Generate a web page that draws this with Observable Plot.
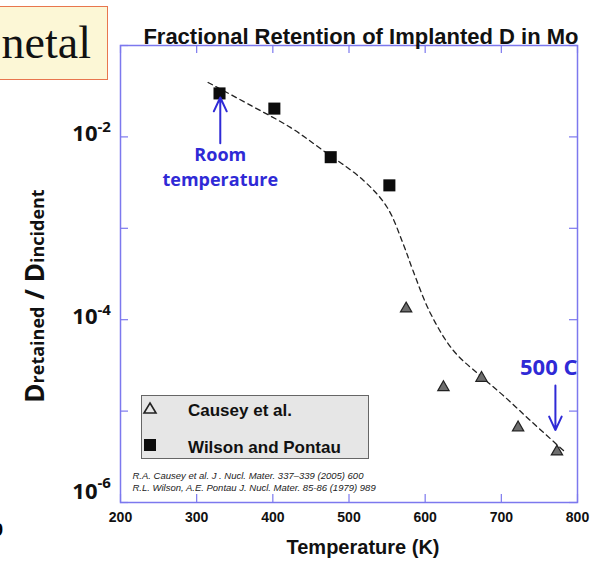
<!DOCTYPE html>
<html><head><meta charset="utf-8">
<script src="https://cdn.jsdelivr.net/npm/d3@7"></script>
<script src="https://cdn.jsdelivr.net/npm/@observablehq/plot@0.6"></script>
<style>
body{margin:0;background:#fff;}
#wrap{position:relative;width:593px;height:566px;overflow:hidden;background:#fff;}
#wrap svg{position:absolute;left:0;top:0;}
.box{position:absolute;left:-4px;top:6px;width:112px;height:74px;box-sizing:border-box;background:#fcf7d6;border:1.5px solid #e8764e;font-family:"Liberation Serif",serif;font-size:46px;line-height:72px;text-align:right;padding-right:16px;color:#111;}
.legend{position:absolute;left:141px;top:395px;width:228px;height:64px;box-sizing:border-box;background:#e6e6e6;border:1px solid #666;font-family:"Liberation Sans",Arial,sans-serif;font-weight:700;font-size:17px;color:#111;}
.legend .row{position:absolute;left:0;height:20px;line-height:20px;}
.legend .lab{position:absolute;left:46px;white-space:nowrap;}
.legend svg{position:absolute;left:9px;top:3px;}
.nine{position:absolute;left:-7px;top:520px;font-family:"Liberation Sans",sans-serif;font-weight:700;font-size:18px;}
</style></head><body><div id="wrap"></div>
<script>
// Wilson and Pontau (squares)
const wilsonT = [330, 402, 476, 553];
const wilsonR = [0.0299, 0.0204, 0.0060, 0.00295];
// Causey et al. (triangles)
const causeyT = [575, 624, 674, 722, 773];
const causeyR = [1.32e-4, 1.82e-5, 2.3e-5, 6.6e-6, 3.6e-6];
// dashed guide curve
const fitT = [315, 371, 423, 466, 519, 550, 571, 584, 607, 637, 672, 703, 738, 784];
const fitR = [0.0394, 0.0221, 0.0127, 0.0071, 0.00334, 0.0017, 6.8e-4, 3.45e-4, 1.17e-4, 4.6e-5, 2.45e-5, 1.47e-5, 7.9e-6, 3.55e-6];
const xTicks = [200, 300, 400, 500, 600, 700, 800];
const yTicks = [1e-6, 1e-5, 1e-4, 1e-3, 1e-2, 1e-1];
const yLabelsUpper = [1e-2, 1e-4];
const yLabelsUpperExp = ["-2", "-4"];
const yLabelsLower = [1e-6];
const yLabelsLowerExp = ["-6"];
const titleText = "Fractional Retention of Implanted D in Mo";
const xLabel = "Temperature (K)";
const refs = ["R.A. Causey et al. J . Nucl. Mater. 337–339 (2005) 600", "R.L. Wilson, A.E. Pontau J. Nucl. Mater. 85-86 (1979) 989"];
const legendNames = ["Causey et al.", "Wilson and Pontau"];

const wilson = wilsonT.map((t, i) => ({t, r: wilsonR[i]}));
const causey = causeyT.map((t, i) => ({t, r: causeyR[i]}));
const fit = fitT.map((t, i) => ({t, r: fitR[i]}));

const blue = "#7c78ee";
const annot = "#2f2ad6";
const arial = "Liberation Sans, Arial, sans-serif";
const myriad = "Open Sans, sans-serif";

const plot = Plot.plot({
  width: 593, height: 566,
  marginLeft: 120, marginRight: 16, marginTop: 45, marginBottom: 64,
  x: {domain: [200, 800], axis: null},
  y: {type: "log", domain: [1e-6, 1e-1], axis: null},
  marks: [
    Plot.frame({stroke: blue, strokeWidth: 1.5}),
    Plot.ruleX(xTicks, {x: d => d, insetTop: 449, stroke: blue, strokeWidth: 1.2}),
    Plot.ruleX(xTicks, {x: d => d, insetBottom: 449, stroke: blue, strokeWidth: 1.2}),
    Plot.ruleY(yTicks, {y: d => d, insetRight: 449, stroke: blue, strokeWidth: 1.2}),
    Plot.ruleY(yTicks, {y: d => d, insetLeft: 449, stroke: blue, strokeWidth: 1.2}),
    Plot.line(fit, {x: "t", y: "r", stroke: "#222", strokeWidth: 1.3, strokeDasharray: "5,4", curve: "catmull-rom"}),
    Plot.dot(wilson, {x: "t", y: "r", symbol: "square", r: 6.8, fill: "#0c0c0c"}),
    Plot.dot(causey, {x: "t", y: "r", symbol: "triangle", r: 4.2, fill: "#6e6e6e", stroke: "#222", strokeWidth: 1.2}),
    // annotations
    Plot.arrow([{x: 331, y1: 0.0085, y2: 0.027}], {x: "x", y1: "y1", y2: "y2", stroke: annot, strokeWidth: 2, headLength: 12, headAngle: 50}),
    Plot.text(["Room\ntemperature"], {x: () => 331, y: () => 0.0049, text: d => d, fill: annot, fontSize: 18, fontWeight: 700, fontFamily: myriad, lineHeight: 1.4}),
    Plot.arrow([{x: 771, y1: 1.9e-5, y2: 6.2e-6}], {x: "x", y1: "y1", y2: "y2", stroke: annot, strokeWidth: 2, headLength: 12, headAngle: 50}),
    Plot.text(["500 C"], {x: () => 800, y: () => 2.96e-5, text: d => d, textAnchor: "end", fill: annot, fontSize: 22, fontWeight: 700, fontFamily: myriad}),
    // y tick labels
    Plot.text(yLabelsUpper, {y: d => d, frameAnchor: "left", text: () => "10", textAnchor: "end", dx: -23, dy: -3, fontSize: 22, fontWeight: 700, fontFamily: myriad, fill: "#111"}),
    Plot.text(yLabelsUpper, {y: d => d, frameAnchor: "left", text: (d, i) => yLabelsUpperExp[i], textAnchor: "start", dx: -23, dy: -10, fontSize: 15, fontWeight: 700, fontFamily: myriad, fill: "#111"}),
    Plot.text(yLabelsLower, {y: d => d, frameAnchor: "left", text: () => "10", textAnchor: "end", dx: -23, dy: -11, fontSize: 22, fontWeight: 700, fontFamily: myriad, fill: "#111"}),
    Plot.text(yLabelsLower, {y: d => d, frameAnchor: "left", text: (d, i) => yLabelsLowerExp[i], textAnchor: "start", dx: -23, dy: -19, fontSize: 15, fontWeight: 700, fontFamily: myriad, fill: "#111"}),
    // x tick labels
    Plot.text(xTicks, {x: d => d, frameAnchor: "bottom", text: d => String(d), dy: 19, fontSize: 14, fontWeight: 700, fontFamily: arial, fill: "#111"}),
    // titles
    Plot.text([titleText], {frameAnchor: "top-right", text: d => d, textAnchor: "end", dx: 1, dy: -17, fontSize: 22, fontWeight: 700, fontFamily: arial, fill: "#111"}),
    Plot.text([xLabel], {frameAnchor: "bottom", text: d => d, dx: 14, dy: 51, fontSize: 20, fontWeight: 700, fontFamily: arial, fill: "#111"}),
    // references
    Plot.text([refs[0]], {frameAnchor: "bottom-left", text: d => d, textAnchor: "start", dx: 12, dy: -24, fontSize: 9.5, fontStyle: "italic", fontFamily: arial, fill: "#222"}),
    Plot.text([refs[1]], {frameAnchor: "bottom-left", text: d => d, textAnchor: "start", dx: 12, dy: -12, fontSize: 9.5, fontStyle: "italic", fontFamily: arial, fill: "#222"})
  ]
});

const wrap = document.getElementById("wrap");
wrap.appendChild(plot);

// y axis label with subscripts
const svg = d3.select(plot);
const yl = svg.append("text")
  .attr("transform", "translate(44,296) rotate(-90)")
  .attr("text-anchor", "middle")
  .attr("font-family", myriad)
  .attr("font-weight", 700)
  .attr("fill", "#111");
yl.append("tspan").attr("font-size", 26).text("D");
yl.append("tspan").attr("font-size", 18).text("retained");
yl.append("tspan").attr("font-size", 26).text(" / D");
yl.append("tspan").attr("font-size", 18).text("incident");

// slide box, legend and stray text
const box = document.createElement("div");
box.className = "box"; box.textContent = "netal";
wrap.appendChild(box);

const lg = document.createElement("div");
lg.className = "legend";
lg.innerHTML =
  `<div class="row" style="top:5px;width:100%"><svg width="16" height="14"><path d="M8 2 L14 12 L2 12 Z" fill="#e6e6e6" stroke="#222" stroke-width="1.6"/></svg><span class="lab">${legendNames[0]}</span></div>` +
  `<div class="row" style="top:42px;width:100%"><svg width="16" height="14"><rect x="2" y="1" width="12" height="12" fill="#0c0c0c"/></svg><span class="lab">${legendNames[1]}</span></div>`;
wrap.appendChild(lg);

const nine = document.createElement("div");
nine.className = "nine"; nine.textContent = "9";
wrap.appendChild(nine);
</script>
</body></html>
